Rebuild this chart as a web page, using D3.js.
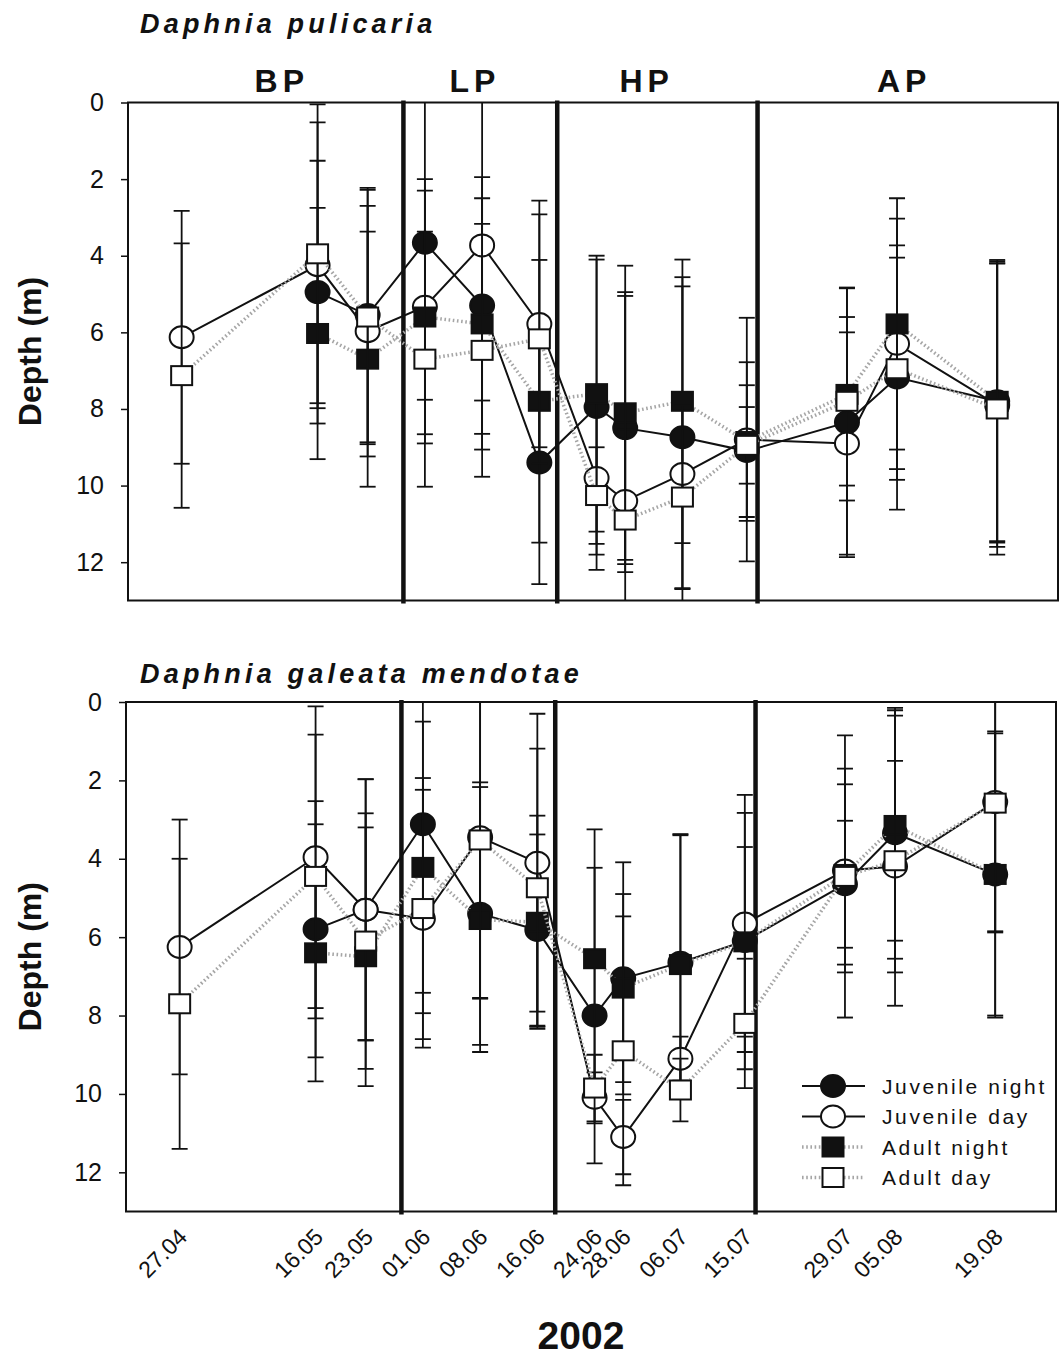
<!DOCTYPE html>
<html>
<head>
<meta charset="utf-8">
<script src="https://cdn.jsdelivr.net/npm/d3@7"></script>
<style>
  body { margin: 0; background: #fff; }
  text { font-family: "Liberation Sans", Arial, Helvetica, sans-serif; fill: #111; }
</style>
</head>
<body>
<div id="chart"></div>
<script>
// sampling dates (2002) and the labels printed under them
const sampleDates = ["2002-04-27", "2002-05-16", "2002-05-23", "2002-05-31", "2002-06-08", "2002-06-16",
  "2002-06-24", "2002-06-28", "2002-07-06", "2002-07-15", "2002-07-29", "2002-08-05", "2002-08-19"];
const dateLabels = ["27.04", "16.05", "23.05", "01.06", "08.06", "16.06",
  "24.06", "28.06", "06.07", "15.07", "29.07", "05.08", "19.08"];
const depthTicks = [0, 2, 4, 6, 8, 10, 12];

// lake periods
const phaseNames = ["BP", "LP", "HP", "AP"];
const phaseLabelDates = ["2002-05-11", "2002-06-07", "2002-07-01", "2002-08-06"];
const phaseBounds = ["2002-05-28", "2002-06-18T12:00Z", "2002-07-16T12:00Z"];

const seriesNames = ["Juvenile night", "Juvenile day", "Adult night", "Adult day"];

// Daphnia pulicaria: mean depth (m) and SD
const pulJuvNight   = [null, 4.95, 5.55, 3.66, 5.3, 9.4, 7.95, 8.5, 8.74, 9.1, 8.35, 7.18, 7.8];
const pulJuvNightSd = [null, 3.43, 3.32, 4.1, 3.35, 3.17, 3.85, 3.55, 3.94, 1.72, 3.52, 3.45, 3.65];
const pulJuvDay     = [6.13, 4.25, 5.97, 5.33, 3.73, 5.78, 9.8, 10.4, 9.7, 8.8, 8.9, 6.3, 7.9];
const pulJuvDaySd   = [3.3, 3.73, 3.27, 3.33, 4.05, 3.22, 2.4, 1.86, 5.14, 3.18, 2.9, 3.27, 3.7];
const pulAdNight    = [null, 6.03, 6.7, 5.6, 5.78, 7.8, 7.6, 8.1, 7.8, 8.85, 7.62, 5.78, 7.8];
const pulAdNightSd  = [null, 3.28, 3.33, 3.3, 3.28, 3.69, 3.6, 3.84, 3.7, 2.07, 2.77, 3.28, 3.69];
const pulAdDay      = [7.13, 3.95, 5.6, 6.7, 6.47, 6.17, 10.26, 10.9, 10.3, 8.95, 7.8, 6.95, 8.0];
const pulAdDaySd    = [3.45, 3.9, 3.32, 3.33, 3.3, 3.25, 1.26, 5.85, 2.4, 1.0, 2.2, 2.9, 3.8];

// Daphnia galeata mendotae: mean depth (m) and SD
const galJuvNight   = [null, 5.8, 5.3, 3.12, 5.4, 5.82, 8.0, 7.05, 6.65, 6.1, 4.65, 3.35, 4.4];
const galJuvNightSd = [null, 3.27, 3.33, 4.3, 3.35, 2.44, 3.77, 2.96, 3.28, 3.27, 1.62, 3.2, 3.6];
const galJuvDay     = [6.25, 3.96, 5.3, 5.53, 3.45, 4.1, 10.1, 11.1, 9.1, 5.65, 4.3, 4.2, 2.55];
const galJuvDaySd   = [3.25, 3.85, 3.33, 3.29, 4.1, 3.8, 0.65, 0.95, 0.56, 3.28, 2.6, 2.7, 3.3];
const galAdNight    = [null, 6.4, 6.5, 4.22, 5.55, 5.62, 6.55, 7.3, 6.7, 6.12, 4.4, 3.15, 4.4];
const galAdNightSd  = [null, 3.28, 3.3, 3.72, 3.38, 2.72, 3.3, 2.4, 3.3, 2.42, 2.3, 2.94, 3.65];
const galAdDay      = [7.7, 4.45, 6.1, 5.27, 3.52, 4.74, 9.85, 8.9, 9.9, 8.2, 4.45, 4.05, 2.58];
const galAdDaySd    = [3.7, 3.62, 3.26, 3.33, 4.05, 3.55, 0.85, 3.43, 0.8, 1.65, 3.6, 3.7, 3.3];

// how each series is drawn (same order as seriesNames)
const styles = [
  { shape: "circle", fill: "#111", dotted: false },
  { shape: "circle", fill: "#fff", dotted: false },
  { shape: "square", fill: "#111", dotted: true },
  { shape: "square", fill: "#fff", dotted: true }
];

const parse = d3.isoParse;
const dates = sampleDates.map(parse);
const xDomain = [parse("2002-04-19T12:00Z"), parse("2002-08-27T12:00Z")];

// pair dates with values so that missing samples can be skipped
const toPoints = (means, sds) => means.map((m, i) => ({ date: dates[i], v: m, sd: sds[i] }));

const panels = [
  {
    title: "Daphnia pulicaria", titleY: 33,
    left: 128, right: 1058, top: 102.5, bottom: 600.5,
    phaseLabels: true, dateAxis: false, legend: false,
    series: [toPoints(pulJuvNight, pulJuvNightSd), toPoints(pulJuvDay, pulJuvDaySd),
             toPoints(pulAdNight, pulAdNightSd), toPoints(pulAdDay, pulAdDaySd)]
  },
  {
    title: "Daphnia galeata mendotae", titleY: 683,
    left: 126, right: 1056, top: 702, bottom: 1211.5,
    phaseLabels: false, dateAxis: true, legend: true,
    series: [toPoints(galJuvNight, galJuvNightSd), toPoints(galJuvDay, galJuvDaySd),
             toPoints(galAdNight, galAdNightSd), toPoints(galAdDay, galAdDaySd)]
  }
];

const svg = d3.select("#chart")
  .append("svg")
  .attr("width", 1059)
  .attr("height", 1359);

// marker drawing shared by plot and legend
const drawMarker = (g, style, cx, cy) => {
  if (style.shape === "circle") {
    g.append("ellipse")
      .attr("cx", cx).attr("cy", cy)
      .attr("rx", 12).attr("ry", 11)
      .attr("fill", style.fill)
      .attr("stroke", "#111").attr("stroke-width", 2);
  } else {
    g.append("rect")
      .attr("x", cx - 10.5).attr("y", cy - 9.5)
      .attr("width", 21).attr("height", 19)
      .attr("fill", style.fill)
      .attr("stroke", "#111").attr("stroke-width", 2);
  }
};

const styleLine = (sel, style) => {
  if (style.dotted) {
    sel.attr("stroke", "#a6a6a6").attr("stroke-width", 3.5).attr("stroke-dasharray", "1.6,2.6");
  } else {
    sel.attr("stroke", "#111").attr("stroke-width", 2);
  }
};

const drawPanel = (p, pi) => {
  const x = d3.scaleUtc().domain(xDomain).range([p.left, p.right]);
  const y = d3.scaleLinear().domain([0, 13]).range([p.top, p.bottom]);

  const g = svg.append("g");

  svg.append("clipPath").attr("id", "clip" + pi)
    .append("rect")
    .attr("x", p.left).attr("y", p.top)
    .attr("width", p.right - p.left).attr("height", p.bottom - p.top);

  // title
  g.append("text")
    .attr("x", 140).attr("y", p.titleY)
    .attr("font-size", 27).attr("font-weight", "bold").attr("font-style", "italic")
    .attr("letter-spacing", 4.2)
    .text(p.title);

  // y axis
  const yAxis = d3.axisLeft(y).tickValues(depthTicks).tickSize(7).tickPadding(17).tickFormat(d3.format("d"));
  const ya = g.append("g")
    .attr("transform", `translate(${p.left},0)`)
    .call(yAxis);
  ya.select(".domain").remove();
  ya.selectAll(".tick line").attr("stroke", "#111").attr("stroke-width", 1.5);
  ya.selectAll(".tick text")
    .attr("font-size", 25).attr("fill", "#111")
    .attr("font-family", "'Liberation Sans', Arial, sans-serif");

  g.append("text")
    .attr("transform", `translate(41,${(p.top + p.bottom) / 2}) rotate(-90)`)
    .attr("text-anchor", "middle")
    .attr("font-size", 32).attr("font-weight", "bold")
    .text("Depth (m)");

  // frame
  g.append("rect")
    .attr("x", p.left).attr("y", p.top)
    .attr("width", p.right - p.left).attr("height", p.bottom - p.top)
    .attr("fill", "none").attr("stroke", "#111").attr("stroke-width", 2);

  // period boundaries
  g.selectAll(".phase")
    .data(phaseBounds)
    .enter()
    .append("line")
    .attr("x1", d => x(parse(d))).attr("x2", d => x(parse(d)))
    .attr("y1", p.top - 2).attr("y2", p.bottom + 3)
    .attr("stroke", "#111").attr("stroke-width", 4.5);

  if (p.phaseLabels) {
    g.selectAll(".phaseLabel")
      .data(phaseNames)
      .enter()
      .append("text")
      .attr("x", (d, i) => x(parse(phaseLabelDates[i])))
      .attr("y", 92)
      .attr("text-anchor", "middle")
      .attr("font-size", 32).attr("font-weight", "bold").attr("letter-spacing", 5)
      .text(d => d);
  }

  const plot = g.append("g").attr("clip-path", `url(#clip${pi})`);
  const line = d3.line()
    .defined(d => d.v != null)
    .x(d => x(d.date))
    .y(d => y(d.v));

  // Excel-like order: each series draws line, error bars, then markers
  p.series.forEach((pts, si) => {
    const style = styles[si];
    const sg = plot.append("g");
    const valid = pts.filter(d => d.v != null);

    sg.append("path")
      .datum(valid)
      .attr("d", line)
      .attr("fill", "none")
      .call(styleLine, style);

    const eb = sg.selectAll(".err")
      .data(valid)
      .enter()
      .append("g")
      .attr("stroke", "#111").attr("stroke-width", 1.8);
    eb.append("line")
      .attr("x1", d => x(d.date)).attr("x2", d => x(d.date))
      .attr("y1", d => y(d.v - d.sd)).attr("y2", d => y(d.v + d.sd));
    eb.append("line")
      .attr("x1", d => x(d.date) - 8).attr("x2", d => x(d.date) + 8)
      .attr("y1", d => y(d.v - d.sd)).attr("y2", d => y(d.v - d.sd));
    eb.append("line")
      .attr("x1", d => x(d.date) - 8).attr("x2", d => x(d.date) + 8)
      .attr("y1", d => y(d.v + d.sd)).attr("y2", d => y(d.v + d.sd));

    valid.forEach(d => drawMarker(sg, style, x(d.date), y(d.v)));
  });

  if (p.dateAxis) {
    g.selectAll(".dateLabel")
      .data(dateLabels)
      .enter()
      .append("text")
      .attr("transform", (d, i) => `translate(${x(dates[i]) + 9},${p.bottom + 27}) rotate(-45)`)
      .attr("text-anchor", "end")
      .attr("font-size", 23)
      .text(d => d);
  }

  if (p.legend) {
    const lg = g.append("g").attr("transform", "translate(802,1086)");
    seriesNames.forEach((name, i) => {
      const row = lg.append("g").attr("transform", `translate(0,${i * 30.5})`);
      row.append("line")
        .attr("x1", 0).attr("x2", 63).attr("y1", 0).attr("y2", 0)
        .call(styleLine, styles[i]);
      drawMarker(row, styles[i], 31, 0);
      row.append("text")
        .attr("x", 80).attr("y", 0).attr("dy", "0.36em")
        .attr("font-size", 21).attr("letter-spacing", 2.6)
        .text(name);
    });
  }
};

panels.forEach(drawPanel);

// shared x axis title
svg.append("text")
  .attr("x", 581).attr("y", 1349)
  .attr("text-anchor", "middle")
  .attr("font-size", 39).attr("font-weight", "bold")
  .text("2002");
</script>
</body>
</html>
